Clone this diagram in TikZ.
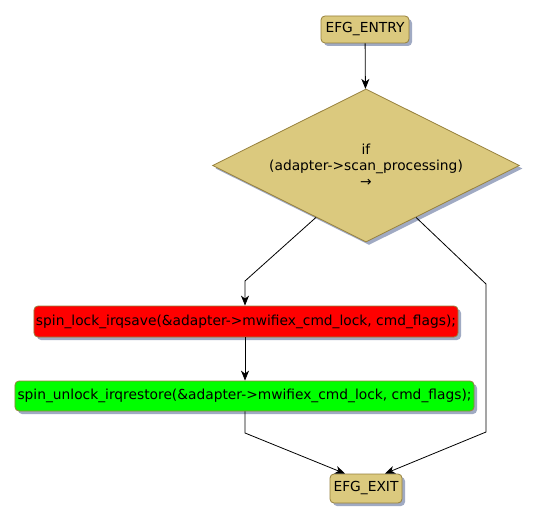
\documentclass[tikz,border=0pt]{standalone}
\usepackage{fontspec}
\setmainfont{DejaVu Sans}
\usetikzlibrary{shapes.geometric,shadows,arrows.meta,calc}
\definecolor{tanfill}{RGB}{219,201,126}
\definecolor{tanline}{RGB}{150,128,60}
\definecolor{shadowc}{RGB}{160,170,195}
\definecolor{redfill}{RGB}{255,0,0}
\definecolor{greenfill}{RGB}{0,255,0}
\tikzset{
  base/.style={draw=tanline, line width=0.8bp, font=\fontsize{13.8bp}{16bp}\selectfont, inner sep=0pt,
    drop shadow={shadow xshift=3bp, shadow yshift=-3bp, fill=shadowc, opacity=1}},
  box/.style={base, rectangle, rounded corners=4bp},
  arr/.style={draw=black, line width=0.8bp, -{Stealth[length=10bp,width=8bp,inset=3bp]}},
}
\begin{document}
\begin{tikzpicture}[x=1bp,y=-1bp]
\useasboundingbox (0,0) rectangle (538,523);
\node[box, fill=tanfill, minimum width=88bp, minimum height=27bp] (entry) at (365,29.5) {EFG\_ENTRY};
\node[base, diamond, fill=tanfill, minimum width=307bp, minimum height=153bp, aspect=2, align=center] (d) at (366,165.5)
  {if\\(adapter->scan\_processing)\\→};
\node[box, fill=redfill, minimum width=424bp, minimum height=31bp] (red) at (246,321.5)
  {spin\_lock\_irqsave(\&adapter->mwifiex\_cmd\_lock, cmd\_flags);};
\node[box, fill=greenfill, minimum width=459bp, minimum height=30bp] (green) at (244.5,396)
  {spin\_unlock\_irqrestore(\&adapter->mwifiex\_cmd\_lock, cmd\_flags);};
\node[box, fill=tanfill, minimum width=72bp, minimum height=29bp] (exit) at (366,488.5) {EFG\_EXIT};
\coordinate (l1) at (245,281);
\coordinate (r1) at (486,284);
\coordinate (r2) at (486,432);
\coordinate (g1) at (245,433);
\draw[arr] (entry) -- (d);
\draw[arr] ($(d.west)!0.675!(d.south)$) -- (l1) -- (l1 |- red.north);
\draw[arr] ($(d.east)!0.675!(d.south)$) -- (r1) -- (r2) -- ($(exit.north)+(19,0)$);
\draw[arr] (red.south -| l1) -- (l1 |- green.north);
\draw[arr] (green.south -| g1) -- (g1) -- ($(exit.north)+(-21,0)$);
\end{tikzpicture}
\end{document}
